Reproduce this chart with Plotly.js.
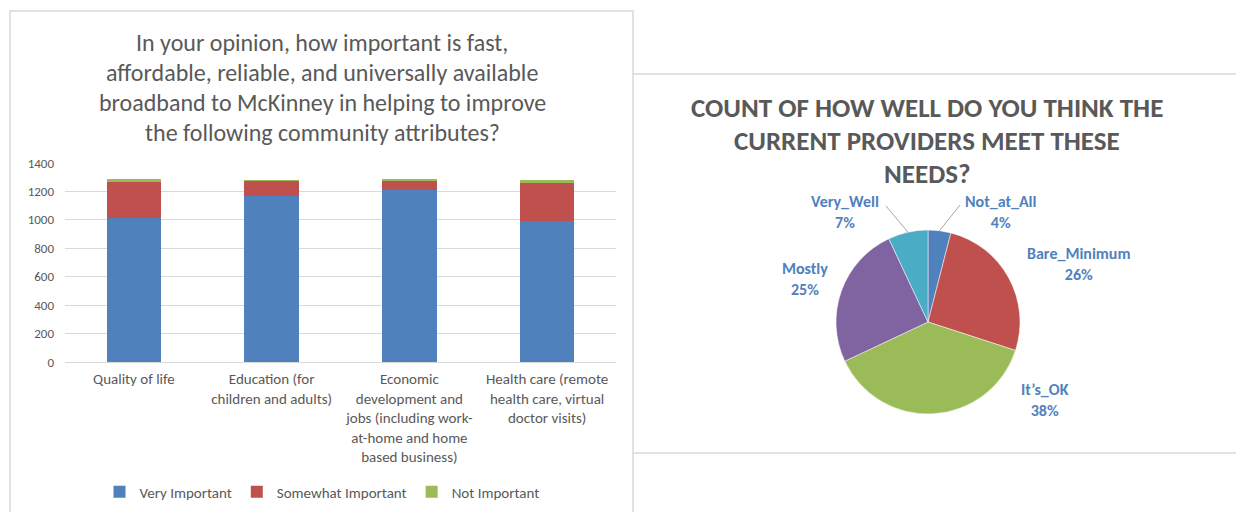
<!DOCTYPE html>
<html>
<head>
<meta charset="utf-8">
<script src="https://cdn.plot.ly/plotly-3.0.1.min.js"></script>
<style>html,body{margin:0;padding:0;background:#fff;}#chart{width:1236px;height:512px;}</style>
</head>
<body>
<div id="chart"></div>
<script>
// ---- data ----
const categories = [
  "Quality of life",
  "Education (for<br>children and adults)",
  "Economic<br>development and<br>jobs (including work-<br>at-home and home<br>based business)",
  "Health care (remote<br>health care, virtual<br>doctor visits)"
];
const veryImportant = [1010, 1168, 1210, 990];
const somewhatImportant = [255, 107, 60, 268];
const notImportant = [25, 8, 15, 22];
const seriesNames = ["Very Important", "Somewhat Important", "Not Important"];

const pieLabels = ["Not_at_All", "Bare_Minimum", "It\u2019s_OK", "Mostly", "Very_Well"];
const pieValues = [4, 26, 38, 25, 7];

const barTitleLines = [
  "In your opinion, how important is fast,",
  "affordable, reliable, and universally available",
  "broadband to McKinney in helping to improve",
  "the following community attributes?"
];
const pieTitleLines = [
  "COUNT OF HOW WELL DO YOU THINK THE",
  "CURRENT PROVIDERS MEET THESE",
  "NEEDS?"
];

// ---- layout helpers (pixels -> paper) ----
const W = 1236, H = 512;
const px = x => x / W;
const py = y => (H - y) / H;

const FONT = 'Carlito, "Liberation Sans", Arial, sans-serif';
const GRAY = '#595959';
const colors = ['#4F81BD', '#C0504D', '#9BBB59'];
const pieColors = ['#4F81BD', '#C0504D', '#9BBB59', '#8064A2', '#4BACC6'];

const barSeries = [veryImportant, somewhatImportant, notImportant];
const traces = barSeries.map((vals, i) => ({
  type: 'bar', x: categories, y: vals, name: seriesNames[i],
  marker: {color: colors[i]}, xaxis: 'x', yaxis: 'y', hoverinfo: 'x+y+name'
}));

// pie geometry
const pieCx = 928, pieCy = 322, pieR = 92;
traces.push({
  type: 'pie', labels: pieLabels, values: pieValues, sort: false,
  direction: 'clockwise', rotation: 0, textinfo: 'none', showlegend: false,
  marker: {colors: pieColors, line: {color: '#ffffff', width: 0.5}},
  domain: {x: [px(pieCx - pieR), px(pieCx + pieR)], y: [py(pieCy + pieR), py(pieCy - pieR)]}
});

// pie label placement (label centers, pixels)
const labelPos = [[1000, 212], [1078, 264], [1045, 400], [805, 279], [845, 212]];
const leaderStart = {0: [960, 205], 4: [886, 206]};
const total = pieValues.reduce((a, b) => a + b, 0);
const annotations = [];
const shapes = [];
let cum = 0;
pieValues.forEach((v, i) => {
  const pct = Math.round(100 * v / total);
  const mid = (cum + v / 2) / total * 2 * Math.PI;
  cum += v;
  const [lx, ly] = labelPos[i];
  annotations.push({
    xref: 'paper', yref: 'paper', x: px(lx), y: py(ly), showarrow: false,
    text: '<b>' + pieLabels[i] + '<br>' + pct + '%</b>',
    font: {family: FONT, size: 16, color: '#4F81BD'}, align: 'center',
    xanchor: 'center', yanchor: 'middle'
  });
  if (leaderStart[i]) {
    const ex = pieCx + pieR * Math.sin(mid), ey = pieCy - pieR * Math.cos(mid);
    shapes.push({type: 'line', xref: 'paper', yref: 'paper',
      x0: px(leaderStart[i][0]), y0: py(leaderStart[i][1]), x1: px(ex), y1: py(ey),
      line: {color: '#A6A6A6', width: 1}});
  }
});

barTitleLines.forEach((t, i) => annotations.push({
  xref: 'paper', yref: 'paper', x: px(322), y: py(42 + i * 30), showarrow: false,
  text: t, font: {family: FONT, size: 24, color: GRAY}, xanchor: 'center', yanchor: 'middle'
}));
pieTitleLines.forEach((t, i) => annotations.push({
  xref: 'paper', yref: 'paper', x: px(927), y: py(107 + i * 33), showarrow: false,
  text: '<b>' + t + '</b>', font: {family: FONT, size: 27, color: GRAY}, xanchor: 'center', yanchor: 'middle'
}));

// panel borders
shapes.push({type: 'rect', xref: 'paper', yref: 'paper', x0: px(10), x1: px(633), y0: py(530), y1: py(11),
  line: {color: '#D9D9D9', width: 1.5}, fillcolor: 'rgba(0,0,0,0)'});
shapes.push({type: 'line', xref: 'paper', yref: 'paper', x0: px(633), x1: 1, y0: py(74), y1: py(74),
  line: {color: '#D9D9D9', width: 1.5}});
shapes.push({type: 'line', xref: 'paper', yref: 'paper', x0: px(633), x1: 1, y0: py(453), y1: py(453),
  line: {color: '#D9D9D9', width: 1.5}});

const layout = {
  width: W, height: H, autosize: false,
  margin: {l: 0, r: 0, t: 0, b: 0},
  paper_bgcolor: '#ffffff', plot_bgcolor: '#ffffff',
  barmode: 'stack', bargap: 0.604,
  font: {family: FONT, color: GRAY},
  xaxis: {domain: [px(65), px(616)], showgrid: false, zeroline: false, showline: false,
    ticks: '', tickangle: 0, ticklabelstandoff: 6,
    tickfont: {family: FONT, size: 15, color: GRAY}, fixedrange: true},
  yaxis: {domain: [py(362), py(163)], range: [0, 1400], dtick: 200, showgrid: true,
    gridcolor: '#D9D9D9', gridwidth: 1, zeroline: true, zerolinecolor: '#D9D9D9', zerolinewidth: 1,
    showline: false, ticks: '', ticklabelstandoff: 10,
    tickfont: {family: FONT, size: 13, color: GRAY}, fixedrange: true},
  legend: {orientation: 'h', traceorder: 'normal', x: px(322), xanchor: 'center', y: py(492), yanchor: 'middle',
    font: {family: FONT, size: 15, color: GRAY}, bgcolor: 'rgba(0,0,0,0)', itemwidth: 30},
  annotations: annotations,
  shapes: shapes
};

Plotly.newPlot('chart', traces, layout, {displayModeBar: false, staticPlot: true});
</script>
</body>
</html>
